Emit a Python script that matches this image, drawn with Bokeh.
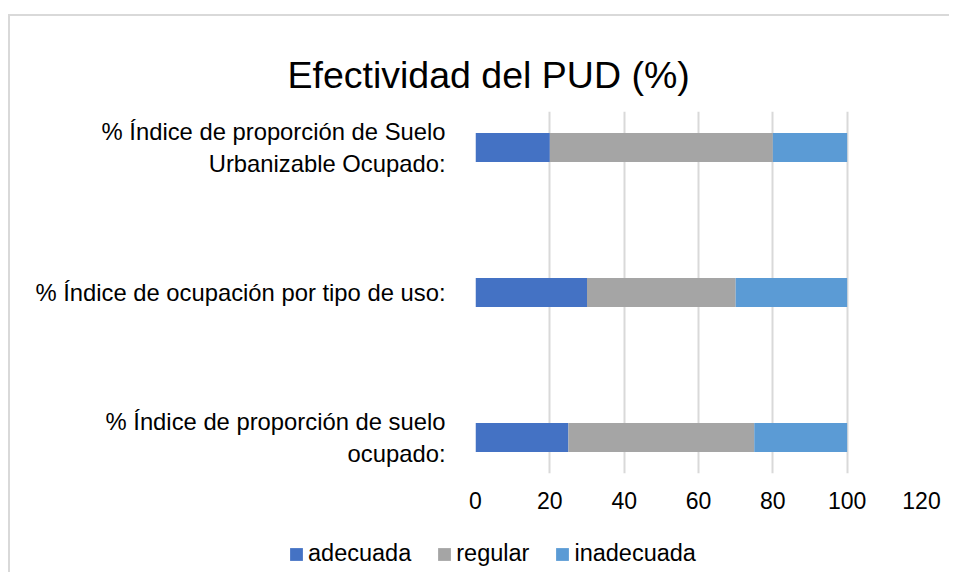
from bokeh.plotting import figure
from bokeh.layouts import column
from bokeh.models import ColumnDataSource, FixedTicker, Range1d, Legend, LegendItem
from bokeh.embed import file_html
from bokeh.resources import INLINE

categories = [
    "% Índice de proporción de suelo\nocupado:",
    "% Índice de ocupación por tipo de uso:",
    "% Índice de proporción de Suelo\nUrbanizable Ocupado:",
]
series = ["adecuada", "regular", "inadecuada"]
adecuada = [25, 30, 20]
regular = [50, 40, 60]
inadecuada = [25, 30, 20]
colors = ["#4472C4", "#A5A5A5", "#5B9BD5"]
x_ticks = [0, 20, 40, 60, 80, 100, 120]

ypos = list(range(len(categories)))
source = ColumnDataSource(dict(y=ypos, adecuada=adecuada, regular=regular, inadecuada=inadecuada))

FONT = "Liberation Sans"
BORDER = "#d9d9d9"

p = figure(width=949, height=530, output_backend="svg", toolbar_location=None,
           x_range=Range1d(0, 120), y_range=Range1d(-0.248, 2.248),
           title="Efectividad del PUD (%)")
p.frame_align = False
p.border_fill_color = None
p.min_border_left = 475
p.min_border_right = 28
p.min_border_top = 111
p.min_border_bottom = 57
p.outline_line_color = None

p.title.text_font = FONT
p.title.text_font_size = "37.5px"
p.title.text_font_style = "normal"
p.title.text_color = "black"
p.title.align = "left"
p.title.offset = -188
p.title.standoff = 31

p.hbar_stack(series, y="y", height=0.2, color=colors, source=source, line_color=None)

# axes
p.xaxis.ticker = FixedTicker(ticks=x_ticks)
p.xaxis.axis_line_color = None
p.xaxis.major_tick_line_color = None
p.xaxis.minor_tick_line_color = None
p.xaxis.major_label_standoff = 12
p.xaxis.major_label_text_font = FONT
p.xaxis.major_label_text_font_size = "23px"
p.xaxis.major_label_text_color = "black"

p.yaxis.ticker = FixedTicker(ticks=ypos)
p.yaxis.major_label_overrides = {i: c for i, c in zip(ypos, categories)}
p.yaxis.axis_line_color = None
p.yaxis.major_tick_line_color = None
p.yaxis.minor_tick_line_color = None
p.yaxis.major_label_standoff = 24
p.yaxis.major_label_text_font = FONT
p.yaxis.major_label_text_font_size = "23.8px"
p.yaxis.major_label_text_color = "black"

p.xgrid.grid_line_color = "#d9d9d9"
p.xgrid.grid_line_width = 2
p.ygrid.grid_line_color = None

# legend strip
pl = figure(width=949, height=42, output_backend="svg", toolbar_location=None,
            x_range=Range1d(0, 1), y_range=Range1d(10, 11))
pl.frame_align = False
pl.border_fill_color = None
pl.background_fill_color = None
pl.min_border_left = 0
pl.min_border_right = 0
pl.min_border_top = 0
pl.min_border_bottom = 0
pl.axis.visible = False
pl.grid.visible = False
pl.outline_line_color = None

rs = pl.hbar_stack(series, y="y", height=0.2, color=colors, source=source, line_color=None)
items = [LegendItem(label=s, renderers=[r]) for s, r in zip(series, rs)]

legend = Legend(items=items, orientation="horizontal", location=(288, 5))
legend.glyph_width = 16
legend.glyph_height = 16
legend.label_height = 27
legend.label_standoff = 4
legend.spacing = 25
legend.padding = 0
legend.margin = 0
legend.border_line_color = None
legend.background_fill_alpha = 0
legend.label_text_font = FONT
legend.label_text_font_size = "23.5px"
legend.label_text_color = "black"
pl.add_layout(legend, "center")

# light chart-area border drawn as a CSS background (decorative only)
layout = column(p, pl, spacing=0, styles={
    "background-color": "white",
    "background-image": f"linear-gradient({BORDER},{BORDER}), linear-gradient({BORDER},{BORDER})",
    "background-size": "2px 100%, 100% 2px",
    "background-position": "8px 14px, 8px 14px",
    "background-repeat": "no-repeat",
})

open("out.html", "w").write(file_html(layout, INLINE))
